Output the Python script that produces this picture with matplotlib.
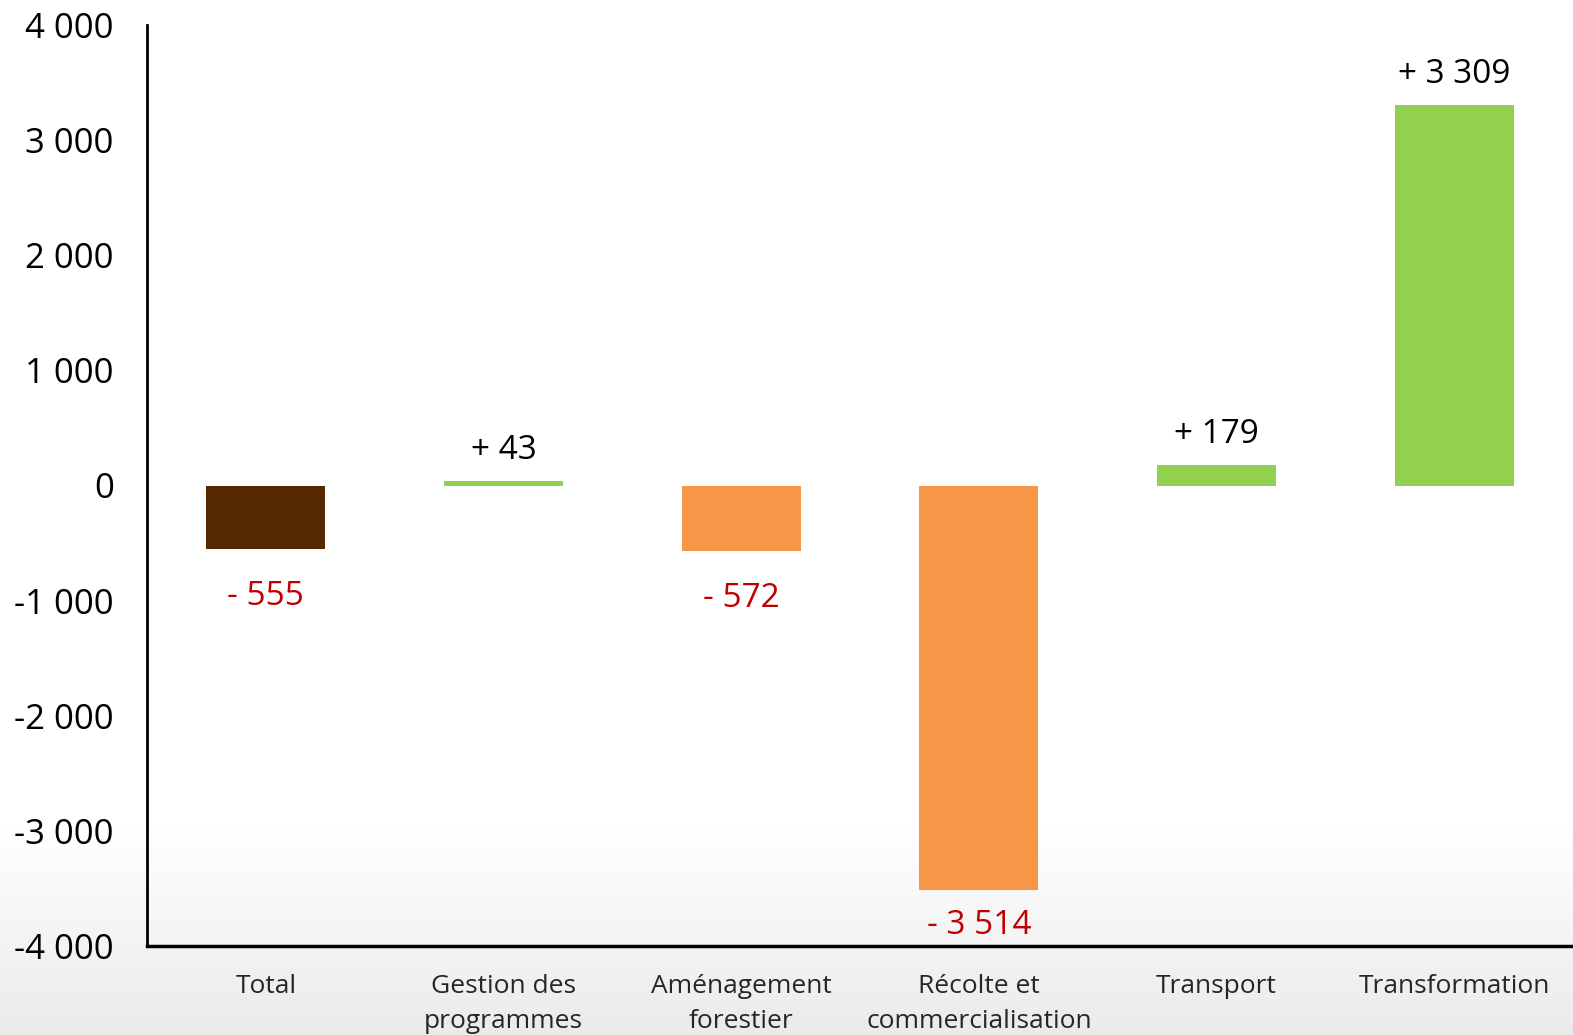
import numpy as np
import matplotlib.pyplot as plt
from matplotlib.ticker import FuncFormatter

# Data
categories = ["Total", "Gestion des\nprogrammes", "Aménagement\nforestier",
              "Récolte et\ncommercialisation", "Transport", "Transformation"]
values = [-555, 43, -572, -3514, 179, 3309]
colors = ["#562800", "#92D050", "#F79646", "#F79646", "#92D050", "#92D050"]

plt.rcParams["font.family"] = ["Open Sans", "DejaVu Sans"]

fig = plt.figure(figsize=(15.73, 10.35), dpi=100)

# light grey gradient behind the bottom of the figure
bg = fig.add_axes([0, 0, 1, 1], zorder=-10)
grad = np.linspace(0, 1, 256).reshape(-1, 1)
shade = np.clip((grad - 0.80) / 0.20, 0, 1)
img = np.ones((256, 1, 3)) * (1 - 0.08 * shade)[:, :, None]
bg.imshow(img, aspect="auto", extent=[0, 1, 0, 1], origin="upper")
bg.axis("off")

ax = fig.add_axes([147 / 1573, 89 / 1035, 1426 / 1573, 921 / 1035])
ax.patch.set_alpha(0)

x = np.arange(len(categories))
ax.bar(x, values, width=0.5, color=colors, zorder=2)

def fmt_num(v):
    return f"{abs(v):,}".replace(",", " ")

for xi, v in zip(x, values):
    if v >= 0:
        ax.annotate("+ " + fmt_num(v), (xi, v), xytext=(0, 10), textcoords="offset points",
                    ha="center", va="bottom", fontsize=24, color="black")
    else:
        off = -22 if v > -3000 else -14
        ax.annotate("- " + fmt_num(v), (xi, v), xytext=(0, off), textcoords="offset points",
                    ha="center", va="top", fontsize=24, color="#C00000")

ax.set_xlim(-0.5, 5.5)
ax.set_ylim(-4000, 4000)
ax.set_yticks(range(-4000, 4001, 1000))
ax.yaxis.set_major_formatter(FuncFormatter(lambda v, p: f"{int(v):,}".replace(",", " ")))
ax.set_xticks(x)
ax.set_xticklabels(categories, fontsize=19, color="#262626", linespacing=1.55)
ax.tick_params(axis="y", labelsize=25, length=0, pad=24)
ax.tick_params(axis="x", length=0, pad=20)

for s in ["top", "right"]:
    ax.spines[s].set_visible(False)
ax.spines["left"].set_linewidth(2)
ax.spines["bottom"].set_linewidth(2.5)

fig.savefig("out.png", dpi=100)
